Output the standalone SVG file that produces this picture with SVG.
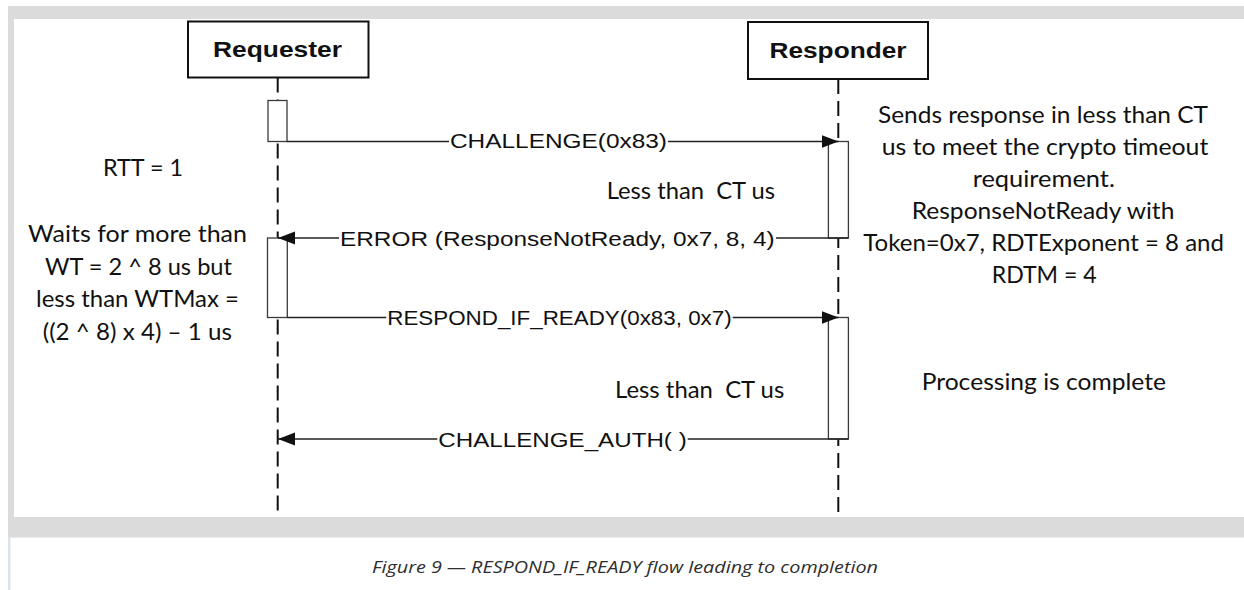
<svg xmlns="http://www.w3.org/2000/svg" width="1244" height="590" viewBox="0 0 1244 590">
  <style>
    .band { fill: #dbdbdb; }
    .actor rect { fill: #fff; stroke: #111; stroke-width: 2; }
    .actor text { font-family: "Liberation Sans", Arial, sans-serif; font-weight: bold; font-size: 21.8px; fill: #111; }
    .lifeline { stroke: #111; stroke-width: 2; stroke-dasharray: 15 7; fill: none; }
    .act { fill: #fff; stroke: #3a3a3a; stroke-width: 1.3; }
    .msg { stroke: #222; stroke-width: 1.3; fill: none; }
    .lblbg { fill: #fff; }
    .lbl { font-family: "Liberation Sans", Arial, sans-serif; font-size: 20px; fill: #111; }
    .note { font-family: Lato, "Open Sans", sans-serif; font-size: 22.3px; fill: #111; }
    .cap { font-family: "Open Sans", "Noto Sans", sans-serif; font-style: italic; font-size: 16.5px; fill: #2e2e2e; }
  </style>
  <defs>
    <marker id="arrow" markerUnits="userSpaceOnUse" markerWidth="18" markerHeight="15" refX="17" refY="7" orient="auto">
      <path d="M0,0.5 L17,7 L0,13.5 Z" fill="#111"/>
    </marker>
  </defs>

  <!-- page background and figure frame -->
  <rect x="0" y="0" width="1244" height="590" fill="#fff"/>
  <g id="frame">
    <rect class="band" x="8" y="6" width="1236" height="13"/>
    <rect class="band" x="8" y="6" width="6" height="531"/>
    <rect class="band" x="8" y="517" width="1236" height="20"/>
    <rect x="8" y="537" width="2.5" height="53" fill="#dde3ea"/>
    <line x1="10" y1="537.5" x2="1244" y2="537.5" stroke="#e6ebf0" stroke-width="1"/>
  </g>

  <!-- lifelines -->
  <g id="lifelines">
    <line class="lifeline" x1="277.7" y1="77.5" x2="277.7" y2="517"/>
    <line class="lifeline" x1="838.3" y1="79" x2="838.3" y2="517"/>
  </g>

  <!-- participants -->
  <g id="requester" class="actor">
    <rect x="188" y="21.5" width="180.5" height="56"/>
    <text x="213" y="57.3" textLength="129" lengthAdjust="spacingAndGlyphs">Requester</text>
  </g>
  <g id="responder" class="actor">
    <rect x="748" y="22" width="180" height="57"/>
    <text x="769.5" y="58" textLength="137" lengthAdjust="spacingAndGlyphs">Responder</text>
  </g>

  <!-- activation bars -->
  <g id="activations">
    <rect class="act" x="268" y="100.5" width="19" height="41"/>
    <rect class="act" x="828.4" y="141.5" width="20" height="96.5"/>
    <rect class="act" x="267.5" y="238" width="19.8" height="79.5"/>
    <rect class="act" x="828.4" y="317.5" width="20" height="121.5"/>
  </g>

  <!-- messages -->
  <g id="connectors">
    <line class="msg" x1="287" y1="141.5" x2="838.5" y2="141.5" marker-end="url(#arrow)"/>
    <line class="msg" x1="848.4" y1="238" x2="278" y2="238" marker-end="url(#arrow)"/>
    <line class="msg" x1="287.3" y1="317.5" x2="838.5" y2="317.5" marker-end="url(#arrow)"/>
    <line class="msg" x1="848.4" y1="439" x2="278" y2="439" marker-end="url(#arrow)"/>

    <rect class="lblbg" x="449" y="131" width="219" height="21"/>
    <text class="lbl" x="450" y="148.3" textLength="217" lengthAdjust="spacingAndGlyphs">CHALLENGE(0x83)</text>

    <rect class="lblbg" x="339" y="228" width="437" height="21"/>
    <text class="lbl" x="340" y="245.5" textLength="434.6" lengthAdjust="spacingAndGlyphs">ERROR (ResponseNotReady, 0x7, 8, 4)</text>

    <rect class="lblbg" x="386.3" y="307.5" width="346.4" height="21"/>
    <text class="lbl" x="387.3" y="325" textLength="344.4" lengthAdjust="spacingAndGlyphs">RESPOND_IF_READY(0x83, 0x7)</text>

    <rect class="lblbg" x="437.3" y="429" width="250.4" height="21"/>
    <text class="lbl" x="438.3" y="446.7" textLength="248.4" lengthAdjust="spacingAndGlyphs">CHALLENGE_AUTH( )</text>
  </g>

  <!-- requester-side notes -->
  <g id="requester-notes" class="note">
    <text x="103" y="175.5" textLength="80" lengthAdjust="spacingAndGlyphs">RTT = 1</text>
    <text x="28" y="242" textLength="219" lengthAdjust="spacingAndGlyphs">Waits for more than</text>
    <text x="45" y="274.5" textLength="187" lengthAdjust="spacingAndGlyphs">WT = 2 ^ 8 us but</text>
    <text x="36" y="307" textLength="203" lengthAdjust="spacingAndGlyphs">less than WTMax =</text>
    <text x="42.7" y="339.5" textLength="189.3" lengthAdjust="spacingAndGlyphs">((2 ^ 8) x 4) – 1 us</text>
  </g>

  <!-- timing notes between lifelines -->
  <g id="timing-notes" class="note">
    <text x="606.7" y="199" textLength="168.3" lengthAdjust="spacingAndGlyphs" xml:space="preserve">Less than  CT us</text>
    <text x="615" y="398.3" textLength="169.3" lengthAdjust="spacingAndGlyphs" xml:space="preserve">Less than  CT us</text>
  </g>

  <!-- responder-side notes -->
  <g id="responder-notes" class="note">
    <text x="878" y="122.5" textLength="330" lengthAdjust="spacingAndGlyphs">Sends response in less than CT</text>
    <text x="881.7" y="154.5" textLength="326.7" lengthAdjust="spacingAndGlyphs">us to meet the crypto timeout</text>
    <text x="972.7" y="186.5" textLength="142.3" lengthAdjust="spacingAndGlyphs">requirement.</text>
    <text x="911.7" y="218.5" textLength="262.7" lengthAdjust="spacingAndGlyphs">ResponseNotReady with</text>
    <text x="863.3" y="250.5" textLength="360.7" lengthAdjust="spacingAndGlyphs">Token=0x7, RDTExponent = 8 and</text>
    <text x="991.7" y="282.5" textLength="105" lengthAdjust="spacingAndGlyphs">RDTM = 4</text>
    <text x="921.7" y="390" textLength="244.3" lengthAdjust="spacingAndGlyphs">Processing is complete</text>
  </g>

  <!-- caption -->
  <text id="caption" class="cap" x="372" y="573" textLength="506" lengthAdjust="spacingAndGlyphs">Figure 9 — RESPOND_IF_READY flow leading to completion</text>
</svg>
